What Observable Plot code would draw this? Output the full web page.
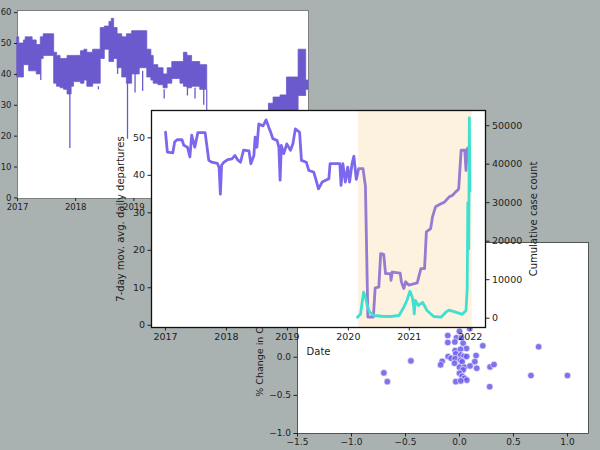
<!DOCTYPE html>
<html><head><meta charset="utf-8">
<script src="https://cdn.jsdelivr.net/npm/d3@7"></script>
<script src="https://cdn.jsdelivr.net/npm/@observablehq/plot@0.6"></script>
<style>
html,body{margin:0;padding:0;background:#a9b1b1;}
#wrap{position:relative;width:600px;height:450px;overflow:hidden;background:#a9b1b1;font-family:"DejaVu Sans",sans-serif;}
.panel{position:absolute;}
.panel svg{display:block;overflow:visible;}
</style></head><body><div id="wrap">
<div id="p1" class="panel" style="left:0px;top:0px"></div>
<div id="p3" class="panel" style="left:240px;top:235px"></div>
<div id="p2" class="panel" style="left:100px;top:100px"></div>
<div id="p2b" class="panel" style="left:100px;top:100px"></div>
</div>
<script>
// ---- Panel 1: daily departures (raw) ----
const p1Year = [2017.00,2017.03,2017.11,2017.14,2017.20,2017.26,2017.33,2017.40,2017.45,2017.63,2017.68,2017.74,2017.80,2017.86,2017.93,2017.97,2018.09,2018.15,2018.20,2018.30,2018.43,2018.50,2018.58,2018.62,2018.66,2018.72,2018.80,2018.88,2018.97,2019.10,2019.23,2019.30,2019.34,2019.42,2019.51,2019.58,2019.66,2019.80,2019.86,2019.92,2020.00,2020.14,2020.26,2020.42,2020.53,2020.61,2020.87,2021.19,2021.28,2021.32,2021.40,2021.52,2021.63,2021.83,2021.96,2022.00];
const p1Low  = [39,39,43,43,41,41,40,45,46,37,36,35.5,35,33.5,36,37.5,37,38,36,37,45,48,44,44,45,42,39,37,40,42,39,38,37,36.5,35.5,37,38.5,37,36,35.5,36,35,1,7,15,11,8,12,20,22,25,26,28,33,35,35];
const p1High = [52,50,51,52,52,51,49.5,52,53,47,46,45,45,46,46,46,47.5,48,47,48,55,55.5,57,58,55,53,52,53,54,54,48,46,43,42,40,42,44,44,47,46,44,43,4,13,22,17,13,18,26,30.5,32.5,33.2,39,48,38,38];
const p1SpikeYear = [2017.40, 2017.90, 2018.39, 2018.72, 2018.89, 2019.02, 2019.15, 2019.52, 2019.92, 2020.05, 2020.20];
const p1SpikeLow  = [38, 16, 35, 40, 19, 34, 34.5, 32, 33, 32, 30];
const p1SpikeTop  = [46, 34, 36, 44, 38, 41, 41, 35, 35.5, 35.5, 36];
const p1XTicks = [2017, 2018, 2019, 2020, 2021, 2022];
const p1YTicks = [0, 10, 20, 30, 40, 50, 60];

// ---- Panel 2: 7-day moving average + cases ----
const avgYear = [2017.00,2017.03,2017.12,2017.15,2017.19,2017.27,2017.30,2017.36,2017.40,2017.43,2017.48,2017.53,2017.65,2017.71,2017.76,2017.85,2017.88,2017.90,2017.92,2017.96,2018.02,2018.09,2018.14,2018.18,2018.23,2018.28,2018.37,2018.40,2018.45,2018.47,2018.50,2018.53,2018.60,2018.62,2018.65,2018.69,2018.73,2018.76,2018.83,2018.86,2018.88,2018.90,2018.94,2018.99,2019.05,2019.09,2019.13,2019.20,2019.23,2019.31,2019.35,2019.43,2019.47,2019.51,2019.57,2019.68,2019.70,2019.86,2019.88,2019.91,2019.95,2019.99,2020.02,2020.06,2020.09,2020.13,2020.17,2020.24,2020.28,2020.32,2020.41,2020.44,2020.50,2020.53,2020.58,2020.61,2020.69,2020.70,2020.72,2020.85,2020.87,2020.91,2020.94,2020.99,2021.13,2021.19,2021.25,2021.28,2021.35,2021.38,2021.43,2021.52,2021.58,2021.65,2021.71,2021.76,2021.79,2021.81,2021.85,2021.91,2021.93,2021.95,2021.97];
const avgValue = [51.5,46.2,46.0,48.9,49.5,49.5,48.0,47.5,44.9,50.7,47.5,51.4,51.4,44.0,43.5,43.2,42.0,35.0,42.7,43.5,44.2,44.4,45.3,44.2,43.5,46.7,46.5,43.1,45.3,50.2,47.5,53.7,53.2,53.8,54.8,53.0,51.3,49.8,49.3,47.5,38.7,48.0,45.8,48.4,46.7,48.4,52.4,51.5,44.0,43.5,41.3,40.9,38.7,36.4,38.2,39.1,43.1,43.1,37.3,43.1,38.2,42.2,38.2,43.1,45.1,38.9,41.8,41.8,37.1,2.2,2.2,10.0,10.2,19.1,18.9,13.8,13.8,12.0,14.2,13.9,11.6,9.8,11.6,10.7,11.3,15.1,15.1,24.9,25.8,28.9,31.6,32.4,32.9,34.2,34.7,35.6,36.0,36.4,46.7,46.7,41.3,47.1,47.4];
const caseYear = [2020.15,2020.20,2020.23,2020.25,2020.28,2020.31,2020.35,2020.42,2020.55,2020.69,2020.83,2020.91,2020.96,2021.01,2021.05,2021.07,2021.08,2021.10,2021.15,2021.22,2021.29,2021.40,2021.52,2021.60,2021.65,2021.76,2021.87,2021.93,2021.95,2021.96,2021.975,2021.985,2021.995];
const caseValue = [260,1100,4600,6750,5450,3300,1560,700,500,440,700,2860,4600,7000,5450,3300,1100,4600,3300,4100,2000,440,260,1560,2100,1560,1000,2000,7700,30000,18000,52000,33000];
const spanStart = [2020.17];
const spanEnd = [2022.03];
const p2XTicks = [2017, 2018, 2019, 2020, 2021, 2022];
const p2YTicks = [0, 10, 20, 30, 40, 50];
const p2CaseTicks = [0, 10000, 20000, 30000, 40000, 50000];
const p2XLabel = "Date";
const p2YLabel = "7-day mov. avg. daily departures";
const p2CaseLabel = "Cumulative case count";

// ---- Panel 3: scatter ----
const scX = [-0.108,0.0,-0.028,0.018,-0.108,-0.043,0.034,0.095,0.216,0.733,0.065,-0.04,0.01,-0.034,0.012,-0.105,-0.077,-0.04,0.043,0.067,0.154,-0.45,-0.16,-0.175,-0.046,0.01,0.025,0.142,0.0,0.046,0.098,0.160,0.283,0.32,0.034,0.0,0.025,0.046,0.068,-0.034,0.012,-0.70,-0.668,0.662,1.0,0.28];
const scY = [0.285,0.34,0.255,0.255,0.193,0.2,0.184,0.373,0.15,0.137,0.115,0.088,0.105,0.044,0.03,0.009,-0.013,-0.02,0.013,0.009,0.022,-0.048,-0.053,-0.1,-0.079,-0.04,-0.06,-0.058,-0.13,-0.13,-0.114,-0.144,-0.127,-0.096,-0.166,-0.21,-0.25,-0.276,-0.30,-0.32,-0.31,-0.205,-0.32,-0.24,-0.24,-0.386];
const p3XTicks = [-1.5, -1.0, -0.5, 0.0, 0.5, 1.0];
const p3YTicks = [-1.0, -0.5, 0.0, 0.5, 1.0, 1.5];
const p3YLabel = "% Change in Case Count";

const baseStyle = {background: "transparent", fontFamily: "DejaVu Sans", color: "#222", overflow: "visible"};
const fmtInt = d3.format("d");
const fmt1 = d3.format(".1f");

const p1 = Plot.plot({
  width: 320, height: 220, marginLeft: 17, marginTop: 10, marginRight: 12, marginBottom: 22,
  style: baseStyle,
  x: {domain: [2017, 2022], axis: null},
  y: {domain: [-0.2, 60.7], axis: null},
  marks: [
    Plot.frame({fill: "white", stroke: "#6a6a6a", strokeWidth: 0.8}),
    Plot.areaY(p1Year, {x: p1Year, y1: p1Low, y2: p1High, curve: "step-after", fill: "#6a5acd", stroke: "#6a5acd", strokeWidth: 0.8}),
    Plot.ruleX(p1SpikeYear, {x: p1SpikeYear, y1: p1SpikeLow, y2: p1SpikeTop, stroke: "#6a5acd", strokeWidth: 1.3}),
    Plot.axisX({ticks: p1XTicks, tickFormat: fmtInt, tickSize: 3, tickPadding: 2, fontSize: 8.5, label: null}),
    Plot.axisY({ticks: p1YTicks, tickFormat: fmtInt, tickSize: 3, tickPadding: 3, fontSize: 8.5, label: null})
  ]
});
document.getElementById("p1").appendChild(p1);

const p3 = Plot.plot({
  width: 360, height: 215, marginLeft: 57, marginTop: 7, marginRight: 12, marginBottom: 17,
  style: baseStyle,
  x: {domain: [-1.5, 1.195], axis: null},
  y: {domain: [-1.0, 1.505], axis: null},
  marks: [
    Plot.frame({fill: "white", stroke: "#333", strokeWidth: 0.8}),
    Plot.dot(scX, {x: scX, y: scY, r: 3.3, fill: "#6a5ae8", fillOpacity: 0.85, stroke: "white", strokeWidth: 0.6}),
    Plot.axisX({ticks: p3XTicks, tickFormat: fmt1, tickSize: 3.5, tickPadding: 2, fontSize: 9, label: null}),
    Plot.axisY({ticks: p3YTicks, tickFormat: fmt1, tickSize: 3.5, tickPadding: 3, fontSize: 9, label: null}),
    Plot.text([p3YLabel], {frameAnchor: "left", dx: -38, rotate: -90, textAnchor: "middle", text: d => d, fontSize: 9.5})
  ]
});
document.getElementById("p3").appendChild(p3);

const p2 = Plot.plot({
  width: 450, height: 270, marginLeft: 51, marginTop: 10, marginRight: 65, marginBottom: 43,
  style: baseStyle,
  x: {domain: [2016.77, 2022.25], axis: null},
  y: {domain: [-0.6, 57.3], axis: null},
  marks: [
    Plot.frame({fill: "white"}),
    Plot.line(avgYear, {x: avgYear, y: avgValue, stroke: "#7b68ee", strokeWidth: 2.8, strokeLinejoin: "round"}),
    Plot.rect(spanStart, {x1: spanStart, x2: spanEnd, fill: "#f4c06f", fillOpacity: 0.22}),
    Plot.axisX({ticks: p2XTicks, tickFormat: fmtInt, tickSize: 3.5, tickPadding: 2, fontSize: 9.5, label: null}),
    Plot.axisY({ticks: p2YTicks, tickFormat: fmtInt, tickSize: 3.5, tickPadding: 3, fontSize: 9.5, label: null}),
    Plot.text([p2XLabel], {frameAnchor: "bottom", dy: 27, textAnchor: "middle", text: d => d, fontSize: 10}),
    Plot.text([p2YLabel], {frameAnchor: "left", dx: -31, rotate: -90, textAnchor: "middle", text: d => d, fontSize: 10})
  ]
});
document.getElementById("p2").appendChild(p2);

const p2b = Plot.plot({
  width: 450, height: 270, marginLeft: 51, marginTop: 10, marginRight: 65, marginBottom: 43,
  style: baseStyle,
  x: {domain: [2016.77, 2022.25], axis: null},
  y: {domain: [-2420, 53950], axis: null},
  marks: [
    Plot.line(caseYear, {x: caseYear, y: caseValue, stroke: "#40e0d0", strokeWidth: 2.8, strokeLinejoin: "round"}),
    Plot.frame({stroke: "#111", strokeWidth: 1.3}),
    Plot.axisY({anchor: "right", ticks: p2CaseTicks, tickFormat: fmtInt, tickSize: 3.5, tickPadding: 3, fontSize: 9.5, label: null}),
    Plot.text([p2CaseLabel], {frameAnchor: "right", dx: 48, rotate: -90, textAnchor: "middle", text: d => d, fontSize: 10})
  ]
});
document.getElementById("p2b").appendChild(p2b);
</script></body></html>
